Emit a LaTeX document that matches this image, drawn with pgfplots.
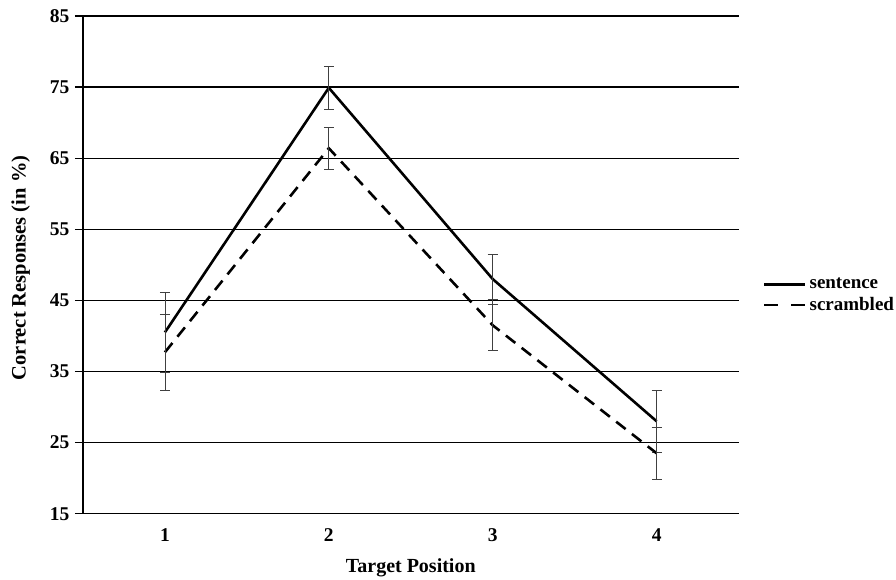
\documentclass[border=0pt]{standalone}
\usepackage{fontspec}
\setmainfont{Liberation Serif}
\usepackage{pgfplots}
\pgfplotsset{compat=1.18}
\pgfplotsset{dashleg/.style={legend image code/.code={%
    \draw[black, line width=2.6pt, dash pattern=on 14pt off 13pt] (0pt,0pt) -- (41pt,0pt);}}}

\begin{document}
\begin{tikzpicture}[x=1pt,y=1pt]
\path (-83,-63) rectangle (813,514);
\begin{axis}[
    at={(0,0)}, anchor=south west,
    scale only axis, width=656pt, height=498pt,
    xmin=0.5, xmax=4.5, ymin=15, ymax=85,
    axis x line*=bottom, axis y line*=left,
    axis line style={black, line width=1.2pt},
    xtick={1,2,3,4},
    major x tick style={draw=none},
    extra x ticks={0.5,1.5,2.5,3.5,4.5},
    extra x tick labels={},
    extra x tick style={major tick length=9pt, tick style={black, line width=1.2pt}, grid=none},
    ytick={15,25,...,85},
    tick align=outside,
    major tick length=8pt,
    tick style={black, line width=1.2pt},
    ymajorgrids=true,
    grid style={black, line width=1.2pt},
    /pgf/number format/assume math mode=true,
    tick label style={font=\fontsize{19.5}{22}\selectfont\bfseries},
    xticklabel style={yshift=-3pt},
    yticklabel style={xshift=-2pt},
    xlabel={Target Position},
    ylabel={Correct Responses (in \%)},
    xlabel style={font=\fontsize{20}{22}\selectfont\bfseries, yshift=7pt},
    ylabel style={font=\fontsize{20.5}{22}\selectfont\bfseries, yshift=13pt, xshift=-3pt},
    legend style={at={(1.037,0.439)}, anchor=west, draw=none, fill=none,
        font=\fontsize{19}{21}\selectfont\bfseries, row sep=3pt,
        inner sep=0pt, column sep=1pt},
    legend cell align=left,
    legend image code/.code={\draw[#1] (0pt,0pt) -- (41pt,0pt);},
    clip=false,
]
\addplot[black, line width=2.6pt,
    error bars/.cd, y dir=both, y explicit,
    error bar style={black!75, line width=0.8pt},
    error mark options={rotate=90, mark size=5pt, black!75, line width=0.8pt}]
coordinates {
    (1,40.5) +- (0,5.6)
    (2,74.9) +- (0,3.0)
    (3,48.0) +- (0,3.5)
    (4,28.0) +- (0,4.4)
};
\addlegendentry{sentence}
\addplot[black, line width=2.6pt, dash pattern=on 12pt off 8pt, dashleg,
    error bars/.cd, y dir=both, y explicit,
    error bar style={black!75, line width=0.8pt, solid},
    error mark options={rotate=90, mark size=5pt, black!75, line width=0.8pt, solid}]
coordinates {
    (1,37.7) +- (0,5.4)
    (2,66.4) +- (0,3.0)
    (3,41.5) +- (0,3.6)
    (4,23.5) +- (0,3.7)
};
\addlegendentry{scrambled}
\end{axis}
\end{tikzpicture}
\end{document}
